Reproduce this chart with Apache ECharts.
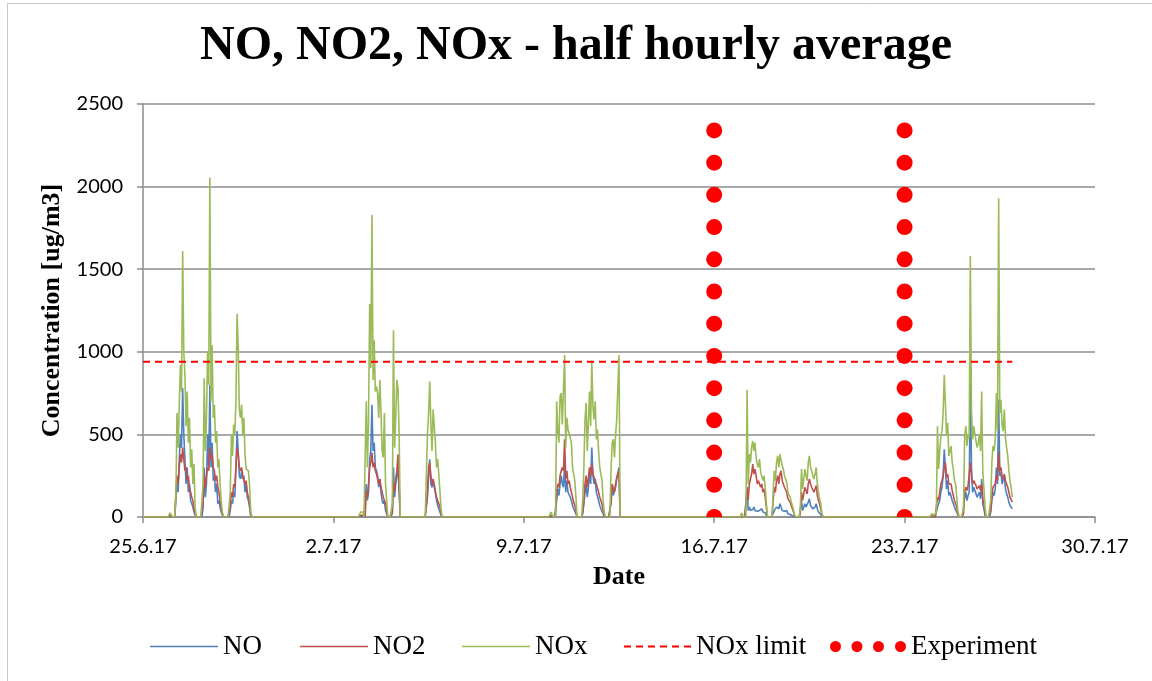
<!DOCTYPE html>
<html>
<head>
<meta charset="utf-8">
<script src="https://cdn.jsdelivr.net/npm/echarts@6/dist/echarts.min.js"></script>
<style>
html,body{margin:0;padding:0;background:#fff;}
#chart{width:1152px;height:681px;}
</style>
</head>
<body>
<div id="chart"></div>
<script>
// x values are days after 25.6.17; each cluster holds hourly values for 3 consecutive days
const tickLabels = ['25.6.17', '2.7.17', '9.7.17', '16.7.17', '23.7.17', '30.7.17'];
const clusterStartDays = [1, 8, 15, 22, 29];
const lastDay = 31;

// NO
const NO_c1 = [5,3,0,0,0,100,200,150,350,500,420,780,500,350,200,300,150,200,100,80,60,30,10,0,
  0,0,0,0,0,60,300,120,200,500,300,800,300,450,220,250,150,200,80,100,60,30,10,0,
  0,0,0,0,0,40,100,80,150,120,300,520,400,250,230,280,230,250,150,200,120,100,60,10];
const NO_c2 = [5,3,5,0,0,200,100,150,350,400,680,400,450,300,280,250,180,230,150,100,80,100,40,20,
  0,0,0,0,20,300,120,200,250,300,150,0,0,0,0,0,0,0,0,0,0,0,0,0,
  0,0,0,0,0,0,0,0,0,0,0,120,250,350,200,180,220,200,150,100,70,50,40,10];
const NO_c3 = [5,3,0,0,0,100,170,130,200,250,200,180,330,150,220,150,160,120,100,70,50,40,20,0,
  0,0,0,0,20,80,150,200,120,180,280,200,420,250,200,230,150,160,100,70,50,40,20,0,
  0,0,0,0,0,80,200,130,120,180,230,220,300,0,0,0,0,0,0,0,0,0,0,0];
const NO_c4 = [3,2,0,0,0,180,40,60,40,50,45,60,40,50,35,45,40,35,50,30,40,25,10,0,
  0,0,0,0,20,40,30,60,70,50,80,60,40,50,35,30,40,20,25,15,10,8,5,0,
  0,0,0,0,10,100,40,50,80,60,50,90,110,70,60,50,40,60,80,50,30,25,15,0];
const NO_c5 = [3,5,2,0,5,60,50,100,150,180,250,410,300,170,220,130,150,160,100,80,60,50,30,10,
  0,0,0,0,10,120,150,100,130,150,870,300,150,180,170,140,120,130,150,110,230,80,50,10,
  0,0,0,0,30,100,150,130,170,300,200,710,250,270,200,190,250,170,140,120,90,70,60,50];

// NO2
const NO2_c1 = [10,5,0,0,0,150,250,200,300,380,330,420,350,280,300,220,250,180,150,120,100,50,20,0,
  0,0,0,0,0,80,250,180,250,300,280,420,350,380,300,280,220,250,180,150,100,60,20,0,
  0,0,0,0,0,60,150,120,200,180,300,420,380,300,280,300,250,260,200,220,150,120,80,20];
const NO2_c2 = [10,5,10,0,0,150,120,200,300,330,390,300,330,280,260,250,200,230,180,150,120,130,80,40,
  0,0,0,0,30,200,150,230,280,380,200,0,0,0,0,0,0,0,0,0,0,0,0,0,
  0,0,0,0,0,0,0,0,0,0,0,150,300,330,250,200,230,180,150,120,100,80,60,20];
const NO2_c3 = [10,5,0,0,0,150,200,180,250,280,300,280,470,230,280,200,220,180,150,120,90,70,40,0,
  0,0,0,0,30,100,200,250,180,230,300,250,320,260,240,250,200,200,150,120,100,80,40,10,
  0,0,0,0,0,100,200,170,150,200,240,230,280,0,0,0,0,0,0,0,0,0,0,0];
const NO2_c4 = [5,3,0,0,0,180,100,200,230,260,320,260,290,250,200,220,230,180,200,150,170,120,60,0,
  0,0,0,0,100,180,150,220,250,200,260,280,220,200,180,170,150,110,120,90,70,50,30,5,
  0,0,0,0,20,150,100,140,180,160,140,200,230,200,180,170,150,170,190,130,100,80,50,10];
const NO2_c5 = [5,8,3,0,10,120,100,150,200,220,250,300,330,240,260,200,210,200,160,130,100,90,60,20,
  0,0,0,0,20,150,180,160,190,200,330,250,200,220,210,190,170,180,190,160,200,110,70,20,
  0,0,0,0,40,130,180,170,200,250,220,390,280,300,250,230,260,220,200,180,150,120,110,90];

// NOx
const NOx_c1 = [25,15,0,0,0,120,630,420,680,920,760,1610,1000,860,550,760,450,600,300,410,200,320,60,0,
  0,0,0,0,0,200,840,400,600,1000,800,2055,700,1040,600,680,450,520,300,350,200,100,30,0,
  0,0,0,0,0,150,500,370,560,500,700,1230,1030,650,600,680,500,600,380,290,300,280,200,40];
const NOx_c2 = [30,20,30,0,0,700,300,580,1290,900,1830,830,1070,760,790,750,600,830,630,400,360,630,200,100,
  0,0,0,0,80,1130,420,600,830,780,500,0,0,0,0,0,0,0,0,0,0,0,0,0,
  0,0,0,0,0,0,0,0,0,0,0,500,630,820,570,400,650,640,450,300,350,260,270,50];
const NOx_c3 = [30,20,0,0,0,700,520,450,730,750,560,570,980,420,600,530,540,480,450,300,260,220,120,0,
  0,0,0,0,100,300,590,690,400,570,760,550,940,670,590,700,470,530,400,300,260,220,100,30,
  0,0,0,0,0,300,450,470,360,500,590,600,980,0,0,0,0,0,0,0,0,0,0,0];
const NOx_c4 = [25,15,0,0,0,770,200,380,330,420,460,400,450,360,320,300,350,270,280,220,250,180,90,0,
  0,0,0,0,150,280,220,330,370,300,380,390,310,290,250,230,210,150,160,120,90,70,40,10,
  0,0,0,0,50,290,170,230,290,250,220,330,370,300,280,250,230,260,300,200,150,110,80,20];
const NOx_c5 = [20,25,10,0,30,550,290,400,490,520,630,860,690,490,570,370,400,430,330,290,220,200,120,40,
  0,0,0,0,50,490,550,430,500,480,1580,650,470,550,540,460,420,450,500,400,760,270,170,60,
  0,0,0,0,100,330,430,400,470,750,520,1930,630,710,560,520,650,480,420,370,280,220,180,120];

const noxLimit = 940;
const experimentDays = [21, 28];
const experimentLevels = [0,195,390,585,780,975,1170,1365,1560,1755,1950,2145,2340];

function buildSeries(clusters) {
  const pts = [];
  for (let d = 0; d <= lastDay; d++) {
    for (let h = 0; h < 24; h++) {
      let v = 0;
      clusterStartDays.forEach((s, i) => {
        const k = (d - s) * 24 + h;
        if (k >= 0 && k < clusters[i].length) v = clusters[i][k];
      });
      pts.push([d + h / 24, v]);
    }
  }
  return pts;
}

const noData = buildSeries([NO_c1, NO_c2, NO_c3, NO_c4, NO_c5]);
const no2Data = buildSeries([NO2_c1, NO2_c2, NO2_c3, NO2_c4, NO2_c5]);
const noxData = buildSeries([NOx_c1, NOx_c2, NOx_c3, NOx_c4, NOx_c5]);
const endX = noxData[noxData.length - 1][0];
const limitData = [[0, noxLimit], [endX, noxLimit]];
const expData = [];
experimentDays.forEach(d => experimentLevels.forEach(v => expData.push([d, v])));

const serif = 'Liberation Serif';
const legendText = {fontFamily: serif, fontSize: 27, color: '#000'};
const dashIcon = 'path://M0,0h7v2h-7z M12,0h7v2h-7z M24,0h7v2h-7z M36,0h7v2h-7z M48,0h7v2h-7z M60,0h7v2h-7z';
const dotsIcon = 'path://M0,5.5a5.5,5.5 0 1,0 11,0a5.5,5.5 0 1,0 -11,0z M21.5,5.5a5.5,5.5 0 1,0 11,0a5.5,5.5 0 1,0 -11,0z M43,5.5a5.5,5.5 0 1,0 11,0a5.5,5.5 0 1,0 -11,0z M65,5.5a5.5,5.5 0 1,0 11,0a5.5,5.5 0 1,0 -11,0z';
function mkLegend(name, left, w, h, icon) {
  return {
    data: [{name: name, icon: icon}], left: left, top: 628, itemWidth: w, itemHeight: h, itemGap: 0,
    textStyle: legendText, selectedMode: false
  };
}

const chart = echarts.init(document.getElementById('chart'));
chart.setOption({
  animation: false,
  backgroundColor: '#fff',
  graphic: [{
    type: 'rect', shape: {x: 7.5, y: 3.5, width: 1200, height: 700},
    style: {fill: 'none', stroke: '#c8c8c8', lineWidth: 1}, silent: true, z: -1
  }],
  title: {
    text: 'NO, NO2, NOx - half hourly average',
    left: 'center', top: 18,
    textStyle: {fontFamily: serif, fontWeight: 'bold', fontSize: 48, color: '#000'}
  },
  legend: [
    mkLegend('NO', 145, 68, 1.6, 'rect'),
    mkLegend('NO2', 295, 68, 1.6, 'rect'),
    mkLegend('NOx', 457, 68, 1.6, 'rect'),
    mkLegend('NOx limit', 619, 67, 2, dashIcon),
    mkLegend('Experiment', 825, 76, 11, dotsIcon)
  ],
  grid: {left: 143, right: 57, top: 104, bottom: 164, containLabel: false},
  xAxis: {
    type: 'value', min: 0, max: 35, interval: 7,
    name: 'Date', nameLocation: 'middle', nameGap: 47,
    nameTextStyle: {fontFamily: serif, fontWeight: 'bold', fontSize: 26, color: '#000'},
    axisLine: {lineStyle: {color: '#8c8c8c', width: 1.5}},
    axisTick: {show: true, length: 6, lineStyle: {color: '#8c8c8c', width: 1.5}},
    axisLabel: {
      margin: 20, color: '#000', fontFamily: 'Lato', fontSize: 20,
      formatter: v => tickLabels[Math.round(v / 7)]
    },
    splitLine: {show: false}
  },
  yAxis: {
    type: 'value', min: 0, max: 2500, interval: 500,
    name: 'Concentration [ug/m3]', nameLocation: 'middle', nameGap: 74,
    nameTextStyle: {fontFamily: serif, fontWeight: 'bold', fontSize: 26, color: '#000'},
    axisLine: {show: true, lineStyle: {color: '#8c8c8c', width: 1.5}},
    axisTick: {show: true, length: 6, lineStyle: {color: '#8c8c8c', width: 1.5}},
    axisLabel: {margin: 20, color: '#000', fontFamily: 'Lato', fontSize: 20, formatter: v => String(v)},
    splitLine: {show: true, lineStyle: {color: '#8c8c8c', width: 1.5}}
  },
  series: [
    {name: 'NO', type: 'line', data: noData, showSymbol: false, symbol: 'none',
     lineStyle: {color: '#4F81BD', width: 1.6}, itemStyle: {color: '#4F81BD'}, z: 2},
    {name: 'NO2', type: 'line', data: no2Data, showSymbol: false, symbol: 'none',
     lineStyle: {color: '#C0504D', width: 1.6}, itemStyle: {color: '#C0504D'}, z: 3},
    {name: 'NOx', type: 'line', data: noxData, showSymbol: false, symbol: 'none',
     lineStyle: {color: '#9BBB59', width: 1.6}, itemStyle: {color: '#9BBB59'}, z: 4},
    {name: 'NOx limit', type: 'line', data: limitData, showSymbol: false, symbol: 'none',
     lineStyle: {color: '#FF0000', width: 2, type: [7, 5]}, itemStyle: {color: '#FF0000'}, z: 5},
    {name: 'Experiment', type: 'custom', data: expData, clip: true,
     itemStyle: {color: '#FF0000'}, z: 6,
     renderItem: function (params, api) {
       const p = api.coord([api.value(0), api.value(1)]);
       return {type: 'circle', shape: {cx: p[0], cy: p[1], r: 8}, style: {fill: '#FF0000'}};
     }}
  ]
});
</script>
</body>
</html>
